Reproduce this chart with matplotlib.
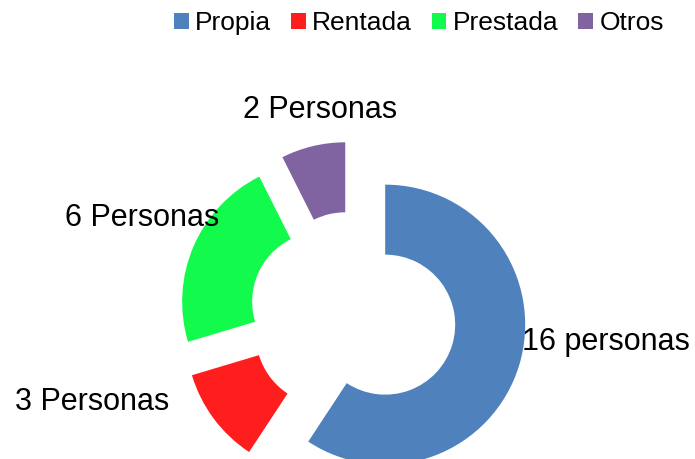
import matplotlib
matplotlib.use('Agg')
import matplotlib.pyplot as plt

plt.rcParams['font.family'] = ['Liberation Sans', 'DejaVu Sans']

# datos
categorias = ['Propia', 'Rentada', 'Prestada', 'Otros']
personas = [16, 3, 6, 2]
etiquetas = ['16 personas', '3 Personas', '6 Personas', '2 Personas']
colores = ['#4F81BD', '#FF1E1E', '#12FA4C', '#8064A2']

W, H = 695, 459
fig = plt.figure(figsize=(W / 100, H / 100), dpi=100)
ax = fig.add_axes([0, 0, 1, 1])

R = 140
centro = (353, H - 315)
wedges, _ = ax.pie(personas, colors=colores, startangle=90, counterclock=False,
                   radius=R, center=centro, explode=[0.24 * R] * 4,
                   wedgeprops=dict(width=0.5 * R, linewidth=0))

ax.set_xlim(0, W)
ax.set_ylim(0, H)
ax.set_aspect('equal')
ax.axis('off')

# posiciones de las etiquetas (pixeles)
pos_etiquetas = [(606, H - 342), (92, H - 402), (142, H - 218), (320, H - 110)]
for txt, (x, y) in zip(etiquetas, pos_etiquetas):
    ax.text(x, y, txt, fontsize=22, ha='center', va='center', color='black')

fig.legend(wedges, categorias, loc='center right', bbox_to_anchor=(664 / W, 1 - 23 / H),
           ncol=4, frameon=False, fontsize=19, handlelength=0.55, handleheight=0.55,
           handletextpad=0.25, columnspacing=0.75, borderaxespad=0, borderpad=0)

fig.savefig('out.png', dpi=100)
